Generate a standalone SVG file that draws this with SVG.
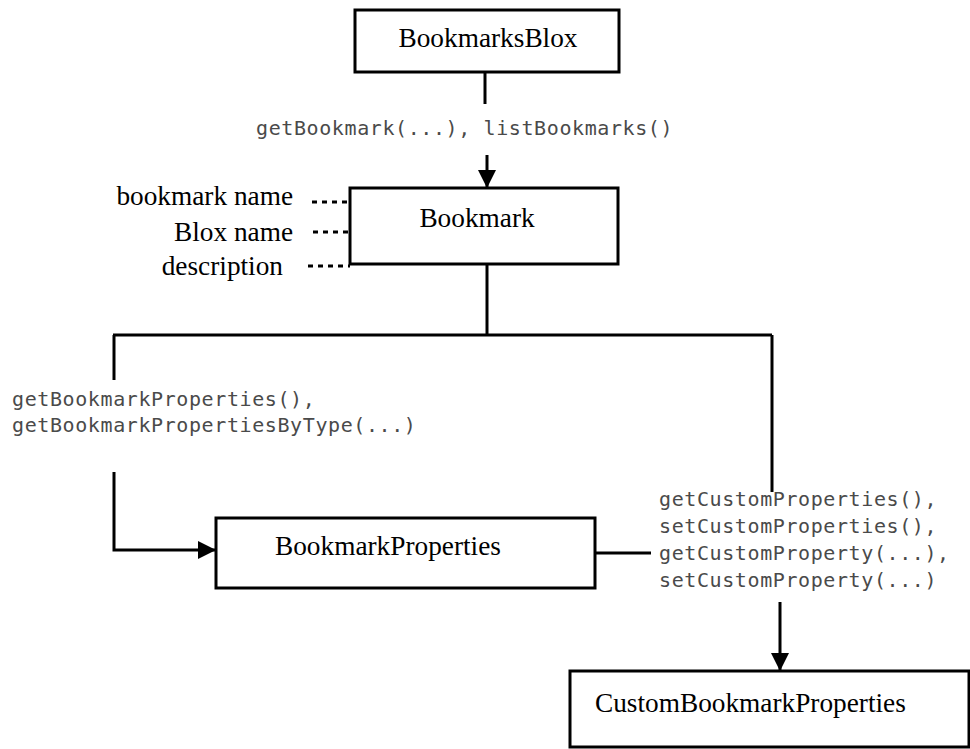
<svg xmlns="http://www.w3.org/2000/svg" width="970" height="749" viewBox="0 0 970 749">
<style>
.box{fill:#fff;stroke:#000;stroke-width:3}
.ln{fill:none;stroke:#000;stroke-width:3}
.dot{fill:none;stroke:#000;stroke-width:3;stroke-dasharray:5 5}
.lbl{font-family:"Liberation Serif","Times New Roman",serif;font-size:27.3px;fill:#000}
.mono{font-family:"DejaVu Sans Mono",monospace;font-size:20px;letter-spacing:0.6px;fill:#4a4a4a}
</style>
<defs>
<marker id="arr" markerUnits="userSpaceOnUse" markerWidth="18" markerHeight="18" viewBox="0 0 18 18" refX="18" refY="9" orient="auto">
<polygon points="0,0 18,9 0,18" fill="#000"/>
</marker>
</defs>
<rect width="970" height="749" fill="#fff"/>
<g id="connectors">
<line class="ln" x1="485" y1="72" x2="485" y2="104"/>
<line class="ln" x1="487" y1="155" x2="487" y2="188" marker-end="url(#arr)"/>
<line class="ln" x1="487" y1="264" x2="487" y2="335"/>
<line class="ln" x1="113" y1="335" x2="772" y2="335"/>
<line class="ln" x1="114" y1="335" x2="114" y2="380"/>
<polyline class="ln" points="114,472 114,550 216,550" marker-end="url(#arr)"/>
<line class="ln" x1="772" y1="335" x2="772" y2="492"/>
<line class="ln" x1="595" y1="553" x2="651" y2="553"/>
<line class="ln" x1="780" y1="602" x2="780" y2="671" marker-end="url(#arr)"/>
<line class="dot" x1="312" y1="202" x2="350" y2="202"/>
<line class="dot" x1="313" y1="232" x2="350" y2="232"/>
<line class="dot" x1="308" y1="266" x2="350" y2="266"/>
<text class="mono" x="256" y="135">getBookmark(...), listBookmarks()</text>
<text class="mono" x="12" y="406">getBookmarkProperties(),</text>
<text class="mono" x="12" y="432">getBookmarkPropertiesByType(...)</text>
<text class="mono" x="659" y="506">getCustomProperties(),</text>
<text class="mono" x="659" y="533">setCustomProperties(),</text>
<text class="mono" x="659" y="560">getCustomProperty(...),</text>
<text class="mono" x="659" y="587">setCustomProperty(...)</text>
</g>
<g id="BookmarksBlox">
<rect class="box" x="355" y="10" width="264" height="62"/>
<text class="lbl" x="488" y="47" text-anchor="middle">BookmarksBlox</text>
</g>
<g id="Bookmark">
<rect class="box" x="350" y="188" width="268" height="76"/>
<text class="lbl" x="477" y="227" text-anchor="middle">Bookmark</text>
</g>
<g id="attributes">
<text class="lbl" x="293" y="205" text-anchor="end">bookmark name</text>
<text class="lbl" x="293" y="241" text-anchor="end">Blox name</text>
<text class="lbl" x="283" y="275" text-anchor="end">description</text>
</g>
<g id="BookmarkProperties">
<rect class="box" x="216" y="518" width="379" height="70"/>
<text class="lbl" x="275" y="555">BookmarkProperties</text>
</g>
<g id="CustomBookmarkProperties">
<rect class="box" x="570" y="671" width="399" height="76"/>
<text class="lbl" x="595" y="712">CustomBookmarkProperties</text>
</g>
</svg>
